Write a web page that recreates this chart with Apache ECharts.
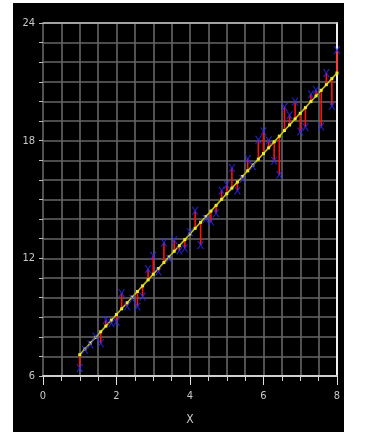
<!DOCTYPE html>
<html><head><meta charset="utf-8">
<script src="https://cdn.jsdelivr.net/npm/echarts@6/dist/echarts.min.js"></script>
<style>
html,body{margin:0;padding:0;background:#fff;width:370px;height:433px;overflow:hidden}
#c{position:absolute;left:13px;top:3px;width:331px;height:429px;background:#000}
</style></head>
<body><div id="c"></div>
<script>
// x positions of observations
var xValues = [1.00,1.14,1.29,1.43,1.57,1.71,1.86,2.00,2.14,2.29,
               2.43,2.57,2.71,2.86,3.00,3.14,3.29,3.43,3.57,3.71,
               3.86,4.00,4.14,4.29,4.43,4.57,4.71,4.86,5.00,5.14,
               5.29,5.43,5.57,5.71,5.86,6.00,6.14,6.29,6.43,6.57,
               6.71,6.86,7.00,7.14,7.29,7.43,7.57,7.71,7.86,8.00];
// observed y values (blue markers)
var yValues = [6.41,7.34,7.61,8.01,7.67,8.86,8.69,8.77,10.22,9.56,
               9.94,9.55,10.05,11.45,12.13,11.33,12.81,11.98,12.94,12.40,
               12.52,13.33,14.42,12.68,14.01,13.88,14.31,15.46,15.75,16.60,
               15.46,16.05,17.06,16.70,18.05,18.47,18.01,16.97,16.26,19.72,
               19.30,20.00,18.47,18.70,20.37,20.58,18.72,21.45,19.78,22.62];
var xTickLabels = [0,2,4,6,8];
var yTickLabels = [6,12,18,24];

// least-squares fit of the observations
var n = xValues.length, sx=0, sy=0, sxx=0, sxy=0;
for (var i=0;i<n;i++){sx+=xValues[i];sy+=yValues[i];sxx+=xValues[i]*xValues[i];sxy+=xValues[i]*yValues[i];}
var slope = (n*sxy - sx*sy)/(n*sxx - sx*sx);
var intercept = (sy - slope*sx)/n;
var fitted = xValues.map(function(x){return intercept + slope*x;});

var points = xValues.map(function(x,i){return [x,yValues[i]];});
var fitPts = xValues.map(function(x,i){return [x,fitted[i]];});
var resid = xValues.map(function(x,i){return [x,yValues[i],fitted[i]];});

var font = '"Liberation Sans Narrow","DejaVu Sans Condensed",sans-serif';
var chart = echarts.init(document.getElementById('c'));
chart.setOption({
  backgroundColor:'#000',
  animation:false,
  grid:{left:30,right:7,top:20,bottom:56},
  xAxis:[
    {type:'value',min:0,max:8,interval:0.5,position:'bottom',
     axisLine:{show:true,onZero:false,lineStyle:{color:'#cfcfcf',width:2}},
     axisTick:{show:true,length:5,lineStyle:{color:'#cfcfcf',width:1}},
     axisLabel:{show:false},
     splitLine:{show:true,lineStyle:{color:'#666',width:1.6}}},
    {type:'value',min:0,max:8,interval:2,position:'bottom',
     axisLine:{show:false,onZero:false},
     axisTick:{show:true,length:9,lineStyle:{color:'#e0e0e0',width:1}},
     axisLabel:{show:true,color:'#c8c8c8',fontSize:11,fontFamily:font,margin:15,
       formatter:function(v){return xTickLabels.indexOf(v)>=0?String(v):'';}},
     splitLine:{show:false},
     name:'X',nameLocation:'middle',nameGap:38,
     nameTextStyle:{color:'#c8c8c8',fontSize:12,fontFamily:font}},
    {type:'value',min:0,max:8,position:'top',
     axisLine:{show:true,onZero:false,lineStyle:{color:'#bdbdbd',width:1.5}},
     axisTick:{show:false},axisLabel:{show:false},splitLine:{show:false}}
  ],
  yAxis:[
    {type:'value',min:6,max:24,interval:1,position:'left',
     axisLine:{show:false,onZero:false},
     axisTick:{show:true,length:4,lineStyle:{color:'#bdbdbd',width:1}},
     axisLabel:{show:true,color:'#c8c8c8',fontSize:11,fontFamily:font,margin:8,
       formatter:function(v){return yTickLabels.indexOf(v)>=0?String(v):'';}},
     splitLine:{show:true,lineStyle:{color:'#666',width:1.6}}},
    {type:'value',min:6,max:24,position:'right',
     axisLine:{show:true,onZero:false,lineStyle:{color:'#f0f0f0',width:2}},
     axisTick:{show:false},axisLabel:{show:false},splitLine:{show:false}}
  ],
  series:[
    {type:'custom',xAxisIndex:0,yAxisIndex:0,z:3,data:resid,
     renderItem:function(params,api){
       var p1=api.coord([api.value(0),api.value(1)]);
       var p2=api.coord([api.value(0),api.value(2)]);
       return {type:'line',shape:{x1:p1[0],y1:p1[1],x2:p2[0],y2:p2[1]},
               style:{stroke:'#ff1010',lineWidth:1.6}};
     }},
    {type:'line',xAxisIndex:0,yAxisIndex:0,z:4,data:fitPts,
     lineStyle:{color:'#c4c400',width:1.6},
     symbol:'rect',symbolSize:3,showSymbol:true,
     itemStyle:{color:'#eaea30'}},
    {type:'scatter',xAxisIndex:0,yAxisIndex:0,z:5,data:points,
     symbol:'path://M0,0L2,0L5,4L8,0L10,0L6,5L10,10L8,10L5,6L2,10L0,10L4,5Z',
     symbolSize:[7,8],
     itemStyle:{color:'#2a2aff'}}
  ]
});
</script></body></html>
